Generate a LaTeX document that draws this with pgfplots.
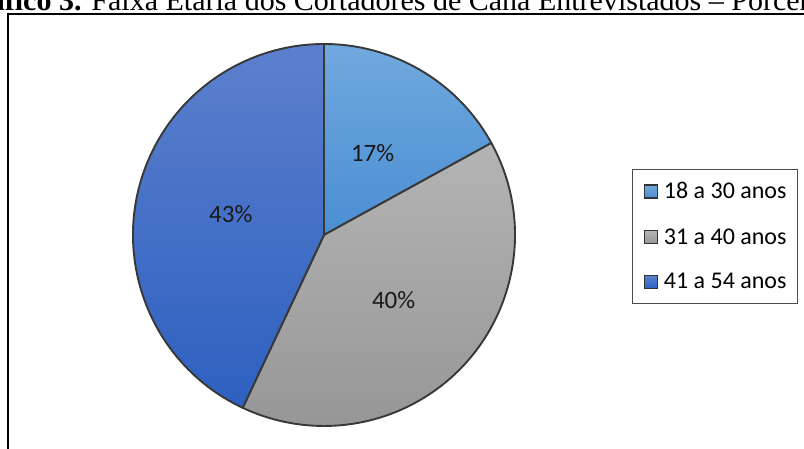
\documentclass[border=0pt]{standalone}
\usepackage{fontspec}
\setmainfont{Liberation Serif}
\newfontfamily\calibri{Carlito}
\usepackage{pgfplots}
\usepackage{pgfplotstable}
\pgfplotsset{compat=1.18}
\definecolor{cAtop}{HTML}{70A9DE}
\definecolor{cAbot}{HTML}{4A8ED3}
\definecolor{cBtop}{HTML}{B4B4B4}
\definecolor{cBbot}{HTML}{969696}
\definecolor{cCtop}{HTML}{5C80CC}
\definecolor{cCbot}{HTML}{2D60C1}
\definecolor{edge}{HTML}{383838}
\pgfplotstableread{
idx value
0 17
1 40
2 43
}\piedata
\begin{document}%
\begin{tikzpicture}
\pgfplotstablegetelem{0}{value}\of\piedata \edef\va{\pgfplotsretval}
\pgfplotstablegetelem{1}{value}\of\piedata \edef\vb{\pgfplotsretval}
\pgfplotstablegetelem{2}{value}\of\piedata \edef\vc{\pgfplotsretval}
\pgfmathsetmacro\aA{90}
\pgfmathsetmacro\aB{\aA-3.6*\va}
\pgfmathsetmacro\aC{\aB-3.6*\vb}
\pgfmathsetmacro\aD{\aC-3.6*\vc}
\pgfmathsetmacro\mA{(\aA+\aB)/2}
\pgfmathsetmacro\mB{(\aB+\aC)/2}
\pgfmathsetmacro\mC{(\aC+\aD)/2}
\path (0pt,0pt) rectangle (804pt,449pt);
\node[overlay, anchor=base west, inner sep=0pt, font=\fontsize{30}{35}\selectfont] at (-47pt,438pt)
  {\textbf{Gráfico 3.} Faixa Etária dos Cortadores de Cana Entrevistados – Porcentagem};
\draw[overlay, line width=2pt, line cap=rect] (8.2pt,-20pt) -- (8.2pt,434.8pt) -- (830pt,434.8pt);
\begin{axis}[
  at={(324pt,214pt)}, anchor=center,
  width=382pt, height=382pt, scale only axis,
  xmin=-1, xmax=1, ymin=-1, ymax=1,
  hide axis, clip=false,
  legend cell align=left,
  legend style={at={(1.306,0.673)}, anchor=north west,
    draw=black!70, line width=1.3pt, fill=white,
    inner xsep=11pt, inner ysep=13pt, row sep=28pt, column sep=6pt,
    nodes={inner sep=0pt},
    font=\calibri\fontsize{24}{28}\selectfont},
]
\addlegendimage{legend image code/.code={\shadedraw[top color=cAtop, bottom color=cAbot, draw=black!80, line width=1.4pt] (0pt,-6.5pt) rectangle (13pt,6.5pt);}}
\addlegendentry{18 a 30 anos}
\addlegendimage{legend image code/.code={\shadedraw[top color=cBtop, bottom color=cBbot, draw=black!80, line width=1.4pt] (0pt,-6.5pt) rectangle (13pt,6.5pt);}}
\addlegendentry{31 a 40 anos}
\addlegendimage{legend image code/.code={\shadedraw[top color=cCtop, bottom color=cCbot, draw=black!80, line width=1.4pt] (0pt,-6.5pt) rectangle (13pt,6.5pt);}}
\addlegendentry{41 a 54 anos}
\shadedraw[top color=cAtop, bottom color=cAbot, draw=edge, line width=1.9pt, line join=round]
  (axis cs:0,0) -- (axis cs:{cos(\aA)},{sin(\aA)}) arc[start angle=\aA, end angle=\aB, radius=191pt] -- cycle;
\shadedraw[top color=cBtop, bottom color=cBbot, draw=edge, line width=1.9pt, line join=round]
  (axis cs:0,0) -- (axis cs:{cos(\aB)},{sin(\aB)}) arc[start angle=\aB, end angle=\aC, radius=191pt] -- cycle;
\shadedraw[top color=cCtop, bottom color=cCbot, draw=edge, line width=1.9pt, line join=round]
  (axis cs:0,0) -- (axis cs:{cos(\aC)},{sin(\aC)}) arc[start angle=\aC, end angle=\aD, radius=191pt] -- cycle;
\node[font=\calibri\fontsize{25}{30}\selectfont, text=black!90] at (axis cs:{0.5*cos(\mA)},{0.5*sin(\mA)}) {\va\%};
\node[font=\calibri\fontsize{25}{30}\selectfont, text=black!90] at (axis cs:{0.5*cos(\mB)},{0.5*sin(\mB)}) {\vb\%};
\node[font=\calibri\fontsize{25}{30}\selectfont, text=black!90] at (axis cs:{0.5*cos(\mC)},{0.5*sin(\mC)}) {\vc\%};
\end{axis}
\end{tikzpicture}%
\end{document}
